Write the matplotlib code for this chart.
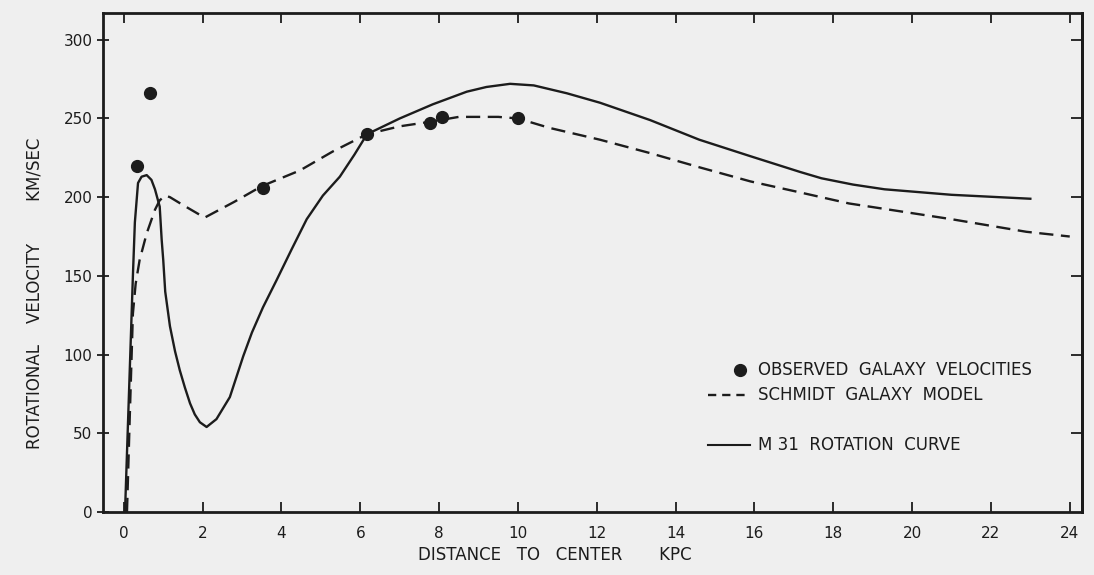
import matplotlib
matplotlib.use("Agg")
import matplotlib.pyplot as plt
from matplotlib.lines import Line2D

# observed rotational velocities (kpc, km/s)
obs_r = [0.33, 0.66, 3.53, 6.17, 7.77, 8.07, 10.0]
obs_v = [220, 266, 206, 240, 247, 251, 250]

# Schmidt galaxy model
schmidt_r = [0.08, 0.15, 0.23, 0.3, 0.4, 0.58, 0.79, 0.91, 1.05, 1.17, 1.5,
             2.05, 2.8, 3.5, 4.47, 5.3, 6.17, 7.0, 7.8, 8.5, 9.5, 10.0, 10.8,
             12.08, 13.35, 14.6, 15.9, 17.16, 18.4, 21.0, 22.9, 24.0]
schmidt_v = [0, 60, 126, 145, 160, 177, 192, 198, 201, 200, 195,
             187, 197, 207, 217, 229, 240, 245, 248, 251, 251, 250, 244,
             236.5, 228, 219, 210, 203, 196, 186, 178, 175]

# M31 rotation curve
m31_r = [0.03, 0.13, 0.23, 0.28, 0.36, 0.45, 0.58, 0.7, 0.79, 0.91, 0.96,
         1.0, 1.05, 1.17, 1.3, 1.42, 1.55, 1.68, 1.8, 1.93, 2.1, 2.35, 2.69,
         3.03, 3.25, 3.53, 3.87, 4.26, 4.64, 5.05, 5.48, 5.85, 6.17, 7.0,
         7.84, 8.7, 9.2, 9.8, 10.4, 11.24, 12.08, 13.35, 14.6, 15.9, 17.16,
         17.7, 18.5, 19.3, 21.0, 23.0]
m31_v = [0, 75, 150, 184, 209, 213, 214, 211, 205, 194, 173,
         160, 140, 118, 102, 90, 79, 69, 62, 57, 54, 59, 73,
         99, 114, 130, 147, 167, 186, 201, 213, 227, 240, 250,
         259, 267, 270, 272, 271, 266, 260, 249, 236.5, 226, 216,
         212, 208, 205, 201.5, 199]

x_ticks = list(range(0, 25, 2))
y_ticks = list(range(0, 301, 50))

ink = "#1c1c1c"
paper = "#efefef"
plt.rcParams["font.family"] = ["DejaVu Sans"]

fig = plt.figure(figsize=(10.94, 5.75), dpi=100, facecolor=paper)
ax = fig.add_axes([0.0941, 0.1096, 0.8949, 0.8678], facecolor=paper)

ax.plot(m31_r, m31_v, color=ink, lw=1.7, solid_joinstyle="round")
ax.plot(schmidt_r, schmidt_v, color=ink, lw=1.7, linestyle=(0, (6, 3.2)))
ax.plot(obs_r, obs_v, "o", color=ink, markersize=8.5, linestyle="none")

ax.set_xlim(-0.53, 24.31)
ax.set_ylim(0, 317)
ax.set_xticks(x_ticks)
ax.set_yticks(y_ticks)

for s in ax.spines.values():
    s.set_linewidth(2.0)
    s.set_color(ink)

ax.tick_params(axis="x", direction="in", top=True, length=7, width=1.3,
               color=ink, labelcolor=ink, labelsize=11, pad=10)
ax.tick_params(axis="y", direction="inout", length=9, width=1.3,
               color=ink, labelcolor=ink, labelsize=11, pad=3)

# right-hand tick marks point into the plot
rax = ax.secondary_yaxis("right")
rax.set_yticks(y_ticks[1:])
rax.tick_params(direction="in", length=8, width=1.3, color=ink, labelright=False)
rax.spines["right"].set_linewidth(2.0)

fig.text(555 / 1094, 1 - 555 / 575, "DISTANCE   TO   CENTER       KPC",
         ha="center", va="center", fontsize=12, color=ink)
fig.text(35 / 1094, 1 - 293 / 575, "ROTATIONAL    VELOCITY        KM/SEC",
         ha="center", va="center", rotation=90, fontsize=12, color=ink)

# hand-placed key
tr = ax.transAxes
lx0, lx1, tx = 0.618, 0.661, 0.669
rows = [0.285, 0.234, 0.134]
ax.add_line(Line2D([0.651], [rows[0]], transform=tr, marker="o",
                   markersize=8.5, color=ink, linestyle="none"))
ax.add_line(Line2D([lx0, lx1], [rows[1]] * 2, transform=tr, color=ink, lw=1.7,
                   linestyle=(0, (3.5, 2.5))))
ax.add_line(Line2D([lx0, lx1], [rows[2]] * 2, transform=tr, color=ink, lw=1.5))
labels = ["OBSERVED  GALAXY  VELOCITIES", "SCHMIDT  GALAXY  MODEL",
          "M 31  ROTATION  CURVE"]
for yy, lab in zip(rows, labels):
    ax.text(tx, yy, lab, transform=tr, ha="left", va="center", fontsize=12,
            color=ink)

fig.savefig("out.png", dpi=100, facecolor=paper)
